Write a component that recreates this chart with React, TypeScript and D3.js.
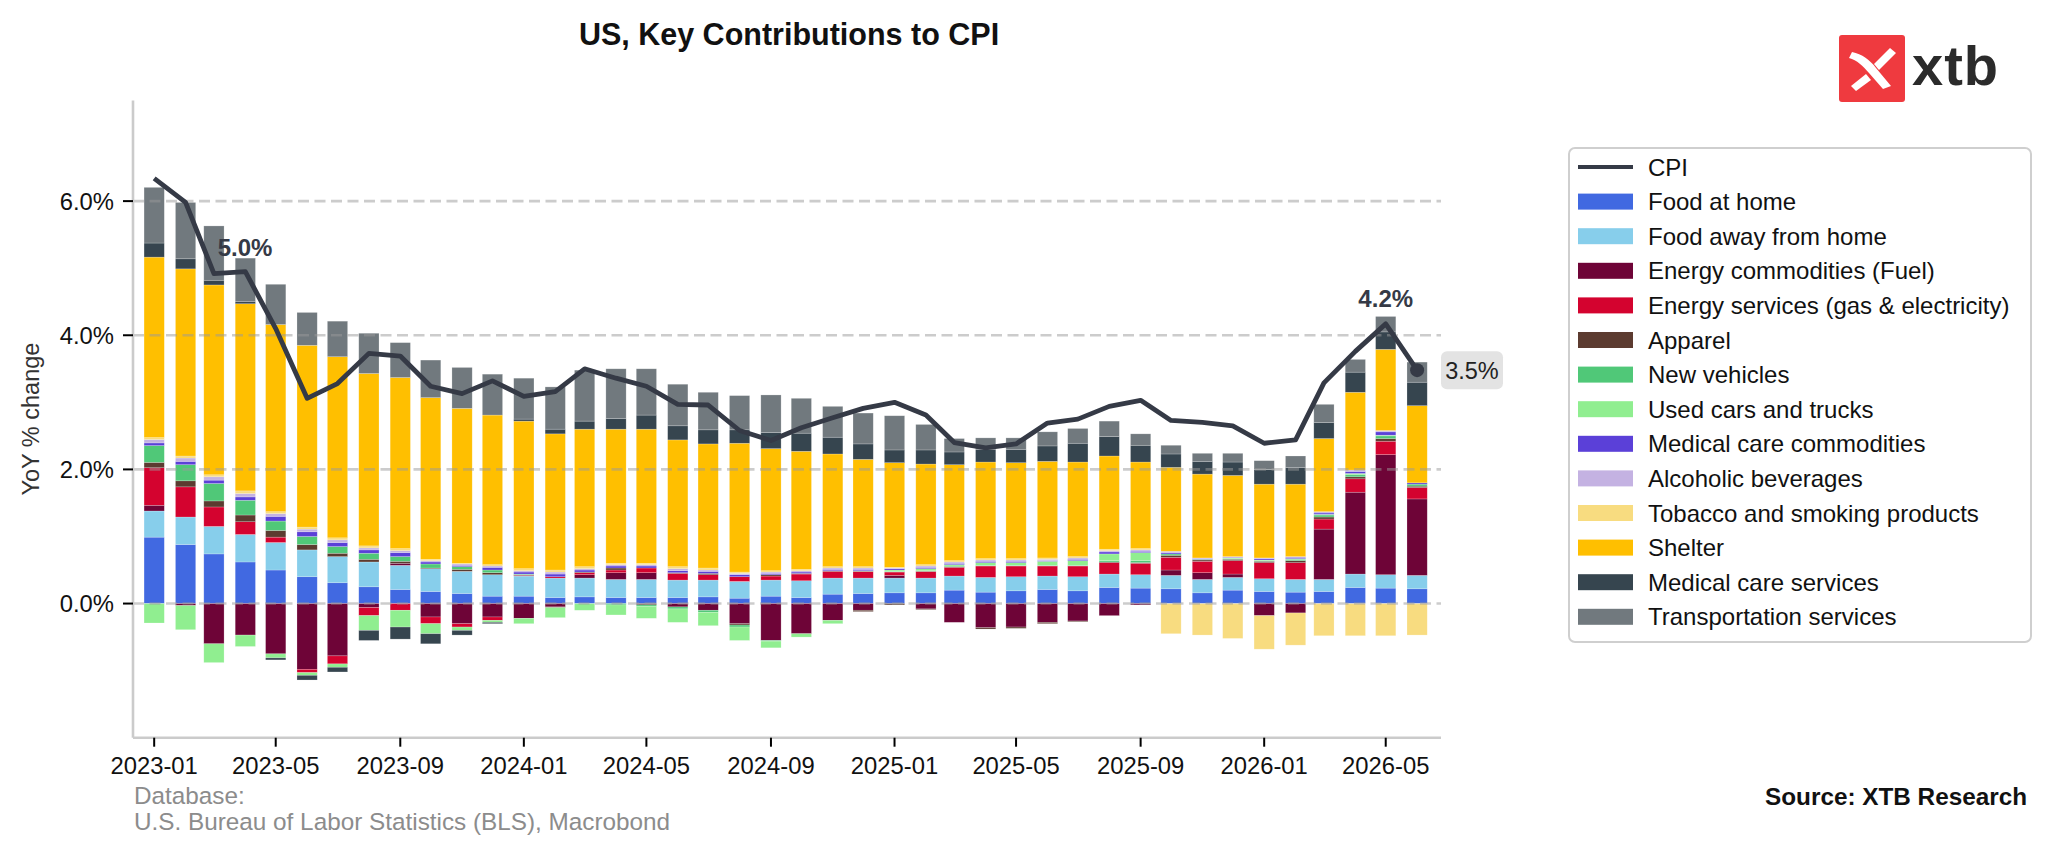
import React from 'react';
import * as d3 from 'd3';

const months = [
  '2023-01','2023-02','2023-03','2023-04','2023-05','2023-06','2023-07','2023-08','2023-09','2023-10','2023-11','2023-12',
  '2024-01','2024-02','2024-03','2024-04','2024-05','2024-06','2024-07','2024-08','2024-09','2024-10','2024-11','2024-12',
  '2025-01','2025-02','2025-03','2025-04','2025-05','2025-06','2025-07','2025-08','2025-09','2025-10','2025-11','2025-12',
  '2026-01','2026-02','2026-03','2026-04','2026-05','2026-06'
];

const cpi = [
  6.34,5.98,4.92,4.95,4.10,3.06,3.28,3.73,3.69,3.24,3.13,3.32,
  3.09,3.16,3.50,3.36,3.24,2.97,2.96,2.58,2.43,2.62,2.77,2.91,
  3.00,2.81,2.40,2.32,2.38,2.69,2.75,2.94,3.03,2.73,2.70,2.65,
  2.39,2.44,3.29,3.76,4.17,3.48
];

const foodAtHome = [0.99,0.88,0.74,0.62,0.50,0.40,0.31,0.25,0.21,0.18,0.15,0.11, 0.11,0.09,0.10,0.09,0.09,0.09,0.10,0.08,0.11,0.09,0.14,0.15, 0.16,0.16,0.20,0.17,0.19,0.21,0.19,0.24,0.23,0.22,0.16,0.20, 0.18,0.17,0.18,0.24,0.23,0.22];
const foodAway = [0.39,0.41,0.41,0.41,0.41,0.40,0.39,0.37,0.36,0.34,0.33,0.32, 0.30,0.29,0.28,0.27,0.27,0.26,0.25,0.25,0.24,0.25,0.24,0.23, 0.22,0.22,0.21,0.22,0.21,0.20,0.21,0.20,0.20,0.20,0.20,0.19, 0.19,0.19,0.18,0.20,0.20,0.20];
const energyCommodities = [0.085,-0.03,-0.60,-0.47,-0.75,-0.98,-0.78,-0.06,0.03,-0.20,-0.30,-0.20, -0.22,-0.05,0.05,0.10,0.10,-0.05,-0.10,-0.30,-0.55,-0.45,-0.25,-0.10, 0.04,-0.08,-0.28,-0.36,-0.35,-0.28,-0.26,-0.18,-0.02,0.08,0.10,0.05, -0.18,-0.14,0.75,1.22,1.79,1.14];
const energyServices = [0.56,0.45,0.29,0.19,0.08,-0.05,-0.12,-0.12,-0.10,-0.10,-0.05,-0.05, 0.01,0.02,0.03,0.04,0.07,0.10,0.08,0.07,0.06,0.10,0.10,0.10, 0.05,0.10,0.13,0.17,0.16,0.15,0.16,0.17,0.17,0.19,0.17,0.20, 0.24,0.25,0.15,0.20,0.20,0.17];
const apparel = [0.08,0.09,0.09,0.10,0.10,0.08,0.05,0.04,0.03,0.01,0.03,0.03, 0.01,-0.01,0.01,0.03,-0.02,0.01,0.02,-0.02,0.02,0.01,0.01,-0.02, -0.02,-0.01,0.01,-0.02,-0.02,-0.02,-0.01,0.01,0.01,0.03,0.02,0.02, 0.02,0.03,0.03,0.03,0.04,0.02];
const newVehicles = [0.25,0.24,0.26,0.22,0.14,0.12,0.10,0.09,0.07,0.06,0.04,0.04, 0.01,0.00,0.00,-0.02,-0.02,-0.03,-0.03,-0.03,-0.01,0.00,0.00,0.01, 0.01,0.01,0.01,0.01,0.01,0.01,0.01,0.02,0.03,0.02,0.01,0.01, 0.01,0.02,0.03,0.03,0.04,0.03];
const usedCars = [-0.29,-0.36,-0.28,-0.17,-0.06,-0.04,-0.05,-0.22,-0.25,-0.15,-0.05,-0.03, -0.08,-0.15,-0.10,-0.15,-0.18,-0.20,-0.20,-0.20,-0.10,-0.05,-0.05,0.00, 0.02,0.03,0.02,0.04,0.04,0.06,0.07,0.10,0.12,0.00,0.00,0.01, 0.01,0.01,0.01,0.02,0.01,0.00];
const medicalCommodities = [0.04,0.05,0.05,0.05,0.07,0.07,0.06,0.05,0.06,0.03,0.02,0.04, 0.03,0.04,0.03,0.03,0.03,0.03,0.03,0.03,0.02,0.02,0.02,0.02, 0.02,0.02,0.02,0.02,0.02,0.01,0.02,0.03,0.02,0.02,0.01,0.01, 0.02,0.02,0.02,0.03,0.05,0.02];
const alcoholic = [0.05,0.05,0.05,0.05,0.04,0.04,0.04,0.03,0.03,0.02,0.02,0.02, 0.02,0.03,0.02,0.02,0.02,0.03,0.02,0.02,0.02,0.02,0.02,0.02, 0.01,0.02,0.02,0.02,0.02,0.02,0.02,0.02,0.02,0.02,0.01,0.01, 0.01,0.01,0.02,0.02,0.02,0.00];
const tobacco = [0.03,0.03,0.03,0.04,0.03,0.03,0.03,0.03,0.03,0.02,0.01,0.02, 0.03,0.03,0.03,0.02,0.02,0.03,0.03,0.02,0.02,0.02,0.02,0.02, 0.01,0.02,0.02,0.02,0.02,0.02,0.02,0.02,0.02,-0.45,-0.47,-0.52, -0.50,-0.48,-0.48,-0.48,-0.48,-0.47];
const shelter = [2.69,2.79,2.83,2.79,2.79,2.71,2.70,2.57,2.55,2.41,2.31,2.23, 2.20,2.03,2.05,2.00,2.00,1.89,1.85,1.92,1.82,1.76,1.68,1.60, 1.56,1.50,1.43,1.44,1.43,1.44,1.41,1.39,1.29,1.25,1.25,1.21, 1.10,1.08,1.09,1.16,1.21,1.15];
const medicalServices = [0.21,0.15,0.07,0.03,-0.03,-0.07,-0.07,-0.15,-0.18,-0.15,-0.07,-0.02, 0.03,0.07,0.12,0.16,0.21,0.21,0.21,0.20,0.24,0.27,0.25,0.23, 0.19,0.21,0.19,0.19,0.20,0.23,0.28,0.29,0.25,0.20,0.19,0.20, 0.22,0.25,0.24,0.30,0.26,0.35];
const transportation = [0.83,0.84,0.81,0.65,0.60,0.49,0.53,0.60,0.52,0.56,0.61,0.61, 0.61,0.63,0.76,0.74,0.69,0.62,0.56,0.51,0.56,0.52,0.46,0.46, 0.51,0.38,0.20,0.17,0.17,0.21,0.22,0.23,0.17,0.13,0.12,0.13, 0.13,0.17,0.27,0.19,0.23,0.30];

const seriesNames = [
  'Food at home','Food away from home','Energy commodities (Fuel)','Energy services (gas & electricity)',
  'Apparel','New vehicles','Used cars and trucks','Medical care commodities','Alcoholic beverages',
  'Tobacco and smoking products','Shelter','Medical care services','Transportation services'
];
const seriesColors = [
  '#4169e1','#87ceeb','#6e0437','#d4032f','#5c3b30','#50c878','#90ee90','#5b40d8','#c4b2e2',
  '#f8dc80','#ffbf00','#36454f','#71797e'
];
const seriesValues = [
  foodAtHome, foodAway, energyCommodities, energyServices, apparel, newVehicles, usedCars,
  medicalCommodities, alcoholic, tobacco, shelter, medicalServices, transportation
];

const xTickLabels = ['2023-01','2023-05','2023-09','2024-01','2024-05','2024-09','2025-01','2025-05','2025-09','2026-01','2026-05'];
const yTicks = [0, 2, 4, 6];

const FONT = "'Liberation Sans', Arial, Helvetica, sans-serif";
const LINE_COLOR = '#353a46';

const parseMonth = d3.utcParse('%Y-%m');

export default function App() {
  const dates = months.map((m) => parseMonth(m) as Date);
  const x0 = 133, x1 = 1441;
  const x = d3.scaleUtc()
    .domain([new Date(Date.UTC(2022, 11, 11, 2)), new Date(Date.UTC(2026, 5, 24, 14))])
    .range([x0, x1]);
  const y = d3.scaleLinear().domain([-2, 7.5]).range([737.7, 100.5]);

  const rows = months.map((m, i) => {
    const r: Record<string, number> = {};
    seriesNames.forEach((s, k) => { r[s] = seriesValues[k][i]; });
    return r;
  });
  const stacked = d3.stack<Record<string, number>>()
    .keys(seriesNames)
    .offset(d3.stackOffsetDiverging)(rows);

  const dayMs = 24 * 3600 * 1000;
  const barW = (i: number) => x(new Date(dates[i].getTime() + 10 * dayMs)) - x(new Date(dates[i].getTime() - 10 * dayMs));

  const line = d3.line<number>()
    .x((_, i) => x(dates[i]))
    .y((v) => y(v));

  const last = cpi.length - 1;
  const peakIdx = 40;
  const annIdx = 2;

  const legendX = 1569, legendY = 148, legendW = 462, legendH = 494;
  const rowH = 34.6;
  const legendItems = ['CPI', ...seriesNames];
  const lx = -10;

  return (
    <svg width={2048} height={857} style={{ position: 'absolute', left: 0, top: 0, background: '#fff' }} fontFamily={FONT}>
      <rect x={0} y={0} width={2048} height={857} fill="#fff" />
      {/* bars */}
      <g>
        {stacked.map((layer, k) => (
          <g key={seriesNames[k]} fill={seriesColors[k]}>
            {layer.map((d, i) => {
              const a = y(d[0]);
              const b = y(d[1]);
              const h = Math.abs(a - b);
              if (h < 0.01) return null;
              const w = barW(i);
              return (
                <rect key={i} x={x(dates[i]) - w / 2} y={Math.min(a, b)} width={w} height={h}
                  stroke="#ffffff" strokeOpacity={0.35} strokeWidth={0.6} />
              );
            })}
          </g>
        ))}
      </g>
      {/* grid */}
      <g>
        {yTicks.map((t) => (
          <line key={t} x1={x0} x2={x1} y1={y(t)} y2={y(t)} stroke="#9a9a9a" strokeOpacity={0.5}
            strokeWidth={2.6} strokeDasharray="11,5.5" />
        ))}
      </g>
      {/* spines */}
      <line x1={x0} x2={x0} y1={y(7.5)} y2={y(-2)} stroke="#cbcbcb" strokeWidth={2.6} />
      <line x1={x0} x2={x1} y1={y(-2)} y2={y(-2)} stroke="#cbcbcb" strokeWidth={2.6} />
      {/* y ticks */}
      {yTicks.map((t) => (
        <g key={t}>
          <line x1={x0 - 10} x2={x0} y1={y(t)} y2={y(t)} stroke="#000" strokeWidth={2} />
          <text x={x0 - 19} y={y(t) + 8.5} textAnchor="end" fontSize={23.8} fill="#111">{t.toFixed(1) + '%'}</text>
        </g>
      ))}
      {/* x ticks */}
      {xTickLabels.map((lab) => {
        const xv = x(parseMonth(lab) as Date);
        return (
          <g key={lab}>
            <line x1={xv} x2={xv} y1={y(-2)} y2={y(-2) + 9} stroke="#000" strokeWidth={2} />
            <text x={xv} y={774} textAnchor="middle" fontSize={23.8} fill="#111">{lab}</text>
          </g>
        );
      })}
      {/* CPI line */}
      <path d={line(cpi) || ''} fill="none" stroke={LINE_COLOR} strokeWidth={4.8} strokeLinejoin="round" />
      <circle cx={x(dates[last])} cy={y(cpi[last])} r={7} fill={LINE_COLOR} />
      {/* annotations */}
      <text x={245} y={y(cpi[annIdx]) - 18} textAnchor="middle" fontSize={24} fontWeight="bold" fill={LINE_COLOR}>5.0%</text>
      <text x={x(dates[peakIdx])} y={307} textAnchor="middle" fontSize={24} fontWeight="bold" fill={LINE_COLOR}>4.2%</text>
      <rect x={1441} y={y(cpi[last]) - 19} width={62} height={38} rx={6} fill="#e3e3e3" />
      <text x={1472} y={y(cpi[last]) + 8.5} textAnchor="middle" fontSize={23.5} fill="#222">3.5%</text>
      {/* title */}
      <text x={789} y={45} textAnchor="middle" fontSize={30.5} fontWeight="bold" fill="#111">US, Key Contributions to CPI</text>
      {/* y label */}
      <text transform={`translate(39,${y(2.75)}) rotate(-90)`} textAnchor="middle" fontSize={23.5} fill="#333">YoY % change</text>
      {/* legend */}
      <rect x={legendX} y={legendY} width={legendW} height={legendH} rx={6} fill="#fff" stroke="#cfcfcf" strokeWidth={2} />
      {legendItems.map((name, i) => {
        const cy = legendY + 19 + i * rowH;
        return (
          <g key={name}>
            {i === 0 ? (
              <line x1={1578} x2={1633} y1={cy} y2={cy} stroke={LINE_COLOR} strokeWidth={4.2} />
            ) : (
              <rect x={1578} y={cy - 8} width={55} height={16} fill={seriesColors[i - 1]} />
            )}
            <text x={1648} y={cy + 8.5} fontSize={24} fill="#111">{name}</text>
          </g>
        );
      })}
      {/* logo */}
      <g transform={`translate(${lx},0)`}>
        <rect x={1849} y={35} width={66} height={67} rx={3} fill="#ef3a3f" />
        <path d="M1862,52 C1872,54 1880,60 1886,68 L1901,86 L1893,89 L1879,73 C1873,66 1867,60 1859,58 Z" fill="#fff" />
        <path d="M1900,48 L1906,53 L1889,70 L1884,64 Z" fill="#fff" />
        <path d="M1876,74 L1881,80 L1866,91 L1861,86 Z" fill="#fff" />
        <text x={1922} y={85} fontSize={56} fontWeight="600" fill="#2b2b2b" letterSpacing={1}>xtb</text>
      </g>
      {/* footer */}
      <text x={134} y={804} fontSize={24.3} fill="#8c8c8c">Database:</text>
      <text x={134} y={830} fontSize={24.3} fill="#8c8c8c">U.S. Bureau of Labor Statistics (BLS), Macrobond</text>
      <text x={2027} y={805} textAnchor="end" fontSize={24.3} fontWeight="bold" fill="#111">Source: XTB Research</text>
    </svg>
  );
}
